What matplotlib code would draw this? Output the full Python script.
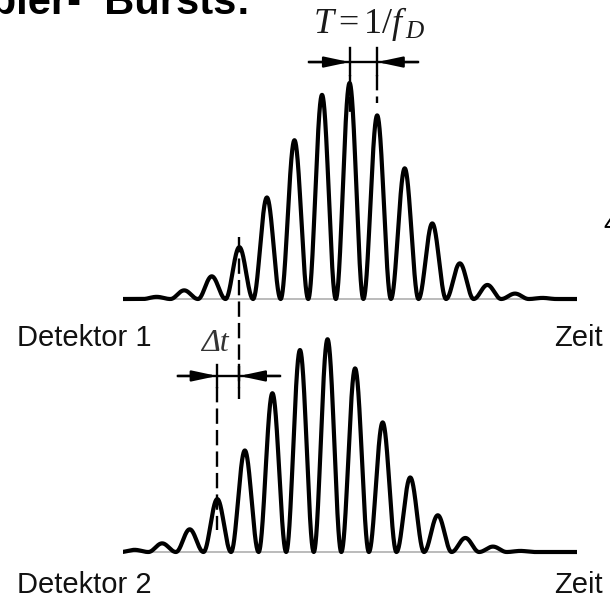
import numpy as np
import matplotlib
matplotlib.use("Agg")
import matplotlib.pyplot as plt

plt.rcParams["mathtext.fontset"] = "custom"
plt.rcParams["mathtext.rm"] = "Liberation Serif"
plt.rcParams["mathtext.it"] = "Liberation Serif:italic"

# ---------------------------------------------------------------- data
# time axis in units of the Doppler period T = 1/f_D
T_END = 16.47

# Detektor 1: fringe peak times and peak amplitudes (normalised)
peak_t_1 = [1.22, 2.22, 3.22, 4.22, 5.22, 6.22, 7.22, 8.22,
            9.22, 10.22, 11.22, 12.22, 13.22, 14.22, 15.22]
peak_a_1 = [0.010, 0.040, 0.105, 0.240, 0.470, 0.735, 0.945, 1.000,
            0.850, 0.605, 0.350, 0.165, 0.065, 0.025, 0.005]

# Detektor 2: same burst, arriving earlier by Δt
peak_t_2 = [0.42, 1.42, 2.42, 3.42, 4.42, 5.42, 6.42, 7.42,
            8.42, 9.42, 10.42, 11.42, 12.42, 13.42, 14.42]
peak_a_2 = [0.010, 0.040, 0.105, 0.245, 0.470, 0.735, 0.935, 0.985,
            0.850, 0.600, 0.345, 0.170, 0.065, 0.025, 0.005]

labels = ["Detektor 1", "Detektor 2"]
axis_label = "Zeit"


def burst(t, centers, heights):
    """Burst signal: each fringe is a cos^2 lobe of its own height."""
    y = np.zeros_like(t)
    for c, h in zip(centers, heights):
        m = np.abs(t - c) <= 0.5
        y[m] = h * np.cos(np.pi * (t[m] - c)) ** 2
    return y


# ---------------------------------------------------------------- layout
W, H = 610, 599
fig = plt.figure(figsize=(W / 100, H / 100), dpi=100)

X0, X1 = 123, 577          # horizontal extent of the time axes (px)
UNIT = 216                 # px per amplitude unit
YLO, YHI = -0.3, 1.3


def make_axes(base_px):
    y_bottom = base_px - YLO * UNIT
    rect = [X0 / W, (H - y_bottom) / H, (X1 - X0) / W, (YHI - YLO) * UNIT / H]
    ax = fig.add_axes(rect)
    ax.set_xlim(0, T_END)
    ax.set_ylim(YLO, YHI)
    ax.axis("off")
    return ax


ax1 = make_axes(299)
ax2 = make_axes(552)

t = np.linspace(0, T_END, 4000)
for ax, pt, pa in ((ax1, peak_t_1, peak_a_1), (ax2, peak_t_2, peak_a_2)):
    ax.axhline(0, color="#b5b5b5", lw=1.3, zorder=1)
    ax.plot(t, burst(t, pt, pa), color="black", lw=3.0, zorder=2,
            solid_joinstyle="round")

LW = 1.7
DASH = (6.5, 2.6)
ARROW = "-|>,head_length=1.5,head_width=0.32"


def dim_arrow(ax, tail, tip, y):
    ax.annotate("", xy=(tip, y), xytext=(tail, y),
                arrowprops=dict(arrowstyle=ARROW, color="black", lw=LW,
                                shrinkA=0, shrinkB=0),
                annotation_clip=False)


# ---- period T = 1/f_D between two neighbouring fringes of Detektor 1
ta, tb = peak_t_1[7], peak_t_1[8]
y_dim = 1.097
ax1.plot([6.75, 10.70], [y_dim, y_dim], color="black", lw=LW, clip_on=False)
dim_arrow(ax1, 6.75, ta, y_dim)
dim_arrow(ax1, 10.70, tb, y_dim)
for tt in (ta, tb):
    ax1.plot([tt, tt], [1.162, 1.037], color="black", lw=LW, clip_on=False)
ax1.plot([ta, ta], [1.037, 0.86], color="black", lw=LW, dashes=DASH, zorder=3)
ax1.plot([tb, tb], [1.037, 0.907], color="black", lw=LW, dashes=DASH, zorder=3)
ax1.text(8.93, 1.273, r"$T = \mathit{1/f}_{\,D}$", ha="center", va="center",
         fontsize=26, color="#1a1a1a")

# ---- time delay Δt between the two detector signals
t1, t2 = peak_t_1[3], peak_t_2[3]
y_dt = 0.815
ax2.plot([1.99, 5.69], [y_dt, y_dt], color="black", lw=LW, clip_on=False)
dim_arrow(ax2, 1.99, t2, y_dt)
dim_arrow(ax2, 5.69, t1, y_dt)
for tt in (t1, t2):
    ax2.plot([tt, tt], [0.866, 0.764], color="black", lw=LW, clip_on=False)
ax2.plot([t1, t1], [1.458, 0.71], color="black", lw=LW, dashes=DASH,
         clip_on=False, zorder=3)
ax2.plot([t2, t2], [0.764, 0.10], color="black", lw=LW, dashes=DASH,
         clip_on=False, zorder=3)
ax2.text(3.85, 0.963, "Δt", ha="right", va="center", fontsize=23,
         family="Liberation Serif", style="italic", color="#333333")

# ---- labels
sans = "Liberation Sans"
fig.text(17 / W, (H - 346) / H, labels[0], ha="left", va="baseline",
         fontsize=21, family=sans, color="#111111")
fig.text(603 / W, (H - 346) / H, axis_label, ha="right", va="baseline",
         fontsize=21, family=sans, color="#111111")
fig.text(17 / W, (H - 593) / H, labels[1], ha="left", va="baseline",
         fontsize=21, family=sans, color="#111111")
fig.text(603 / W, (H - 593) / H, axis_label, ha="right", va="baseline",
         fontsize=21, family=sans, color="#111111")

# heading and page text running off the edges
fig.text(250 / W, (H - 14) / H, "Doppler-  Bursts:", ha="right",
         va="baseline", fontsize=30, family=sans, weight="bold", color="black")
fig.text(603 / W, (H - 232) / H, "4", ha="left", va="baseline",
         fontsize=20, family=sans, color="black")

fig.savefig("out.png", dpi=100, facecolor="white")
